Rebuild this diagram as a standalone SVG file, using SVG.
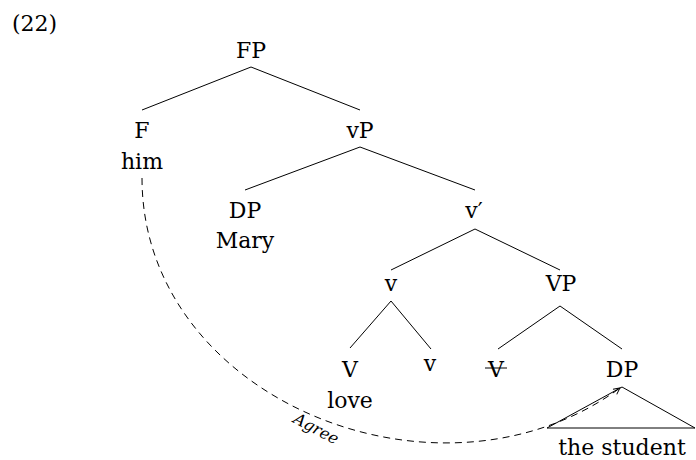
<svg xmlns="http://www.w3.org/2000/svg" width="696" height="460" viewBox="0 0 696 460">
<style>
text{font-family:"DejaVu Serif","Liberation Serif",serif;font-size:22px;fill:#000;text-anchor:middle}
.edge{stroke:#000;stroke-width:1;fill:none}
.agree{font-size:16px;font-style:italic}
</style>
<defs>
<marker id="arr" viewBox="0 0 10 10" refX="9" refY="5" markerWidth="8" markerHeight="8" markerUnits="userSpaceOnUse" orient="auto">
<path d="M1,1 L9,5 L1,9" fill="none" stroke="#000" stroke-width="1.2"/>
</marker>
</defs>
<rect width="696" height="460" fill="#fff"/>
<text x="12" y="31" style="text-anchor:start">(22)</text>
<g id="connectors">
<path class="edge" d="M251,67 L142,110"/>
<path class="edge" d="M251,67 L360,110"/>
<path class="edge" d="M360,147 L245,190"/>
<path class="edge" d="M360,147 L475,190"/>
<path class="edge" d="M475,229 L391,270"/>
<path class="edge" d="M475,229 L560,270"/>
<path class="edge" d="M391,301 L350,348"/>
<path class="edge" d="M391,301 L431,349"/>
<path class="edge" d="M560,306 L498,349"/>
<path class="edge" d="M560,306 L622,349"/>
<path class="edge" d="M622,387 L547,428 L695,428 Z"/>
<path class="edge" d="M142,178 C142,400 440,520 620,388" stroke-dasharray="7,5" marker-end="url(#arr)"/>
</g>
<g id="FP"><text x="251" y="58">FP</text></g>
<g id="F"><text x="142" y="138">F</text><text x="142" y="169">him</text></g>
<g id="vP"><text x="360" y="138">vP</text></g>
<g id="DP1"><text x="245" y="218">DP</text><text x="245" y="248">Mary</text></g>
<g id="vbar"><text x="474" y="218">v′</text></g>
<g id="v1"><text x="391" y="291">v</text></g>
<g id="VP"><text x="561" y="291">VP</text></g>
<g id="V1"><text x="350" y="377">V</text><text x="350" y="408">love</text></g>
<g id="v2"><text x="430" y="371">v</text></g>
<g id="V2"><text x="496" y="377">V</text><path class="edge" d="M485,368 L507,368"/></g>
<g id="DP2"><text x="622" y="377">DP</text><text x="622" y="455">the student</text></g>
<g id="agree"><text class="agree" x="316" y="434" transform="rotate(28,316,429)">Agree</text></g>
</svg>
